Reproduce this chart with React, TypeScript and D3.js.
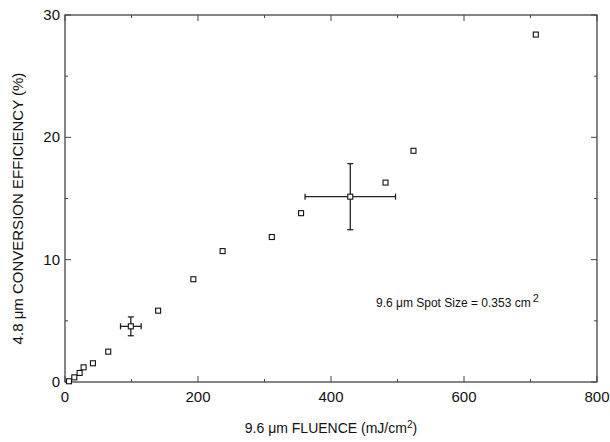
import React from "react";
import * as d3 from "d3";

const fluence = [6, 14, 22, 28, 42, 65, 140, 193, 237, 311, 355, 482, 524, 708];
const efficiency = [0.06, 0.38, 0.74, 1.2, 1.53, 2.48, 5.83, 8.4, 10.7, 11.85, 13.8, 16.3, 18.9, 28.4];

const errFluence = [99, 429];
const errEfficiency = [4.55, 15.15];
const errX = [15.5, 68];
const errY = [0.77, 2.7];

const xTicks = [0, 200, 400, 600, 800];
const yTicks = [0, 10, 20, 30];
const xMinor = [100, 300, 500, 700];
const yMinor = [5, 15, 25];

const W = 610, H = 442;
const M = { left: 65, right: 597, top: 15, bottom: 382 };

export default function App() {
  const x = d3.scaleLinear().domain([0, 800]).range([M.left, M.right]);
  const y = d3.scaleLinear().domain([0, 30]).range([M.bottom, M.top]);
  const ax = "#444";
  const font = "'Liberation Sans', Arial, Helvetica, sans-serif";
  const sq = 5;
  return (
    <svg width={W} height={H} style={{ position: "absolute", left: 0, top: 0 }} fontFamily={font}>
      <rect x={M.left} y={M.top} width={M.right - M.left} height={M.bottom - M.top} fill="none" stroke={ax} strokeWidth={1.3} />
      {xTicks.map((t) => (
        <g key={"xt" + t}>
          <line x1={x(t)} x2={x(t)} y1={M.bottom} y2={M.bottom - 6} stroke={ax} />
          <line x1={x(t)} x2={x(t)} y1={M.top} y2={M.top + 6} stroke={ax} />
          <text x={x(t)} y={M.bottom + 20} textAnchor="middle" fontSize={15} fill="#111">{t}</text>
        </g>
      ))}
      {xMinor.map((t) => (
        <g key={"xm" + t}>
          <line x1={x(t)} x2={x(t)} y1={M.bottom} y2={M.bottom - 3} stroke={ax} />
          <line x1={x(t)} x2={x(t)} y1={M.top} y2={M.top + 3} stroke={ax} />
        </g>
      ))}
      {yTicks.map((t) => (
        <g key={"yt" + t}>
          <line x1={M.left} x2={M.left + 6} y1={y(t)} y2={y(t)} stroke={ax} />
          <line x1={M.right} x2={M.right - 6} y1={y(t)} y2={y(t)} stroke={ax} />
          <text x={M.left - 5} y={y(t) + 5} textAnchor="end" fontSize={15} fill="#111">{t}</text>
        </g>
      ))}
      {yMinor.map((t) => (
        <g key={"ym" + t}>
          <line x1={M.left} x2={M.left + 3} y1={y(t)} y2={y(t)} stroke={ax} />
          <line x1={M.right} x2={M.right - 3} y1={y(t)} y2={y(t)} stroke={ax} />
        </g>
      ))}
      {fluence.map((f, i) => (
        <rect key={"p" + i} x={x(f) - sq / 2} y={y(efficiency[i]) - sq / 2} width={sq} height={sq} fill="white" stroke="#111" strokeWidth={1.1} />
      ))}
      {errFluence.map((f, i) => {
        const cx = x(f), cy = y(errEfficiency[i]);
        const x0 = x(f - errX[i]), x1 = x(f + errX[i]);
        const y0 = y(errEfficiency[i] - errY[i]), y1 = y(errEfficiency[i] + errY[i]);
        return (
          <g key={"e" + i} stroke="#222" strokeWidth={1.3}>
            <line x1={x0} x2={x1} y1={cy} y2={cy} />
            <line x1={cx} x2={cx} y1={y0} y2={y1} />
            <line x1={x0} x2={x0} y1={cy - 3} y2={cy + 3} />
            <line x1={x1} x2={x1} y1={cy - 3} y2={cy + 3} />
            <line x1={cx - 3} x2={cx + 3} y1={y0} y2={y0} />
            <line x1={cx - 3} x2={cx + 3} y1={y1} y2={y1} />
            <rect x={cx - sq / 2} y={cy - sq / 2} width={sq} height={sq} fill="white" stroke="#111" strokeWidth={1.1} />
          </g>
        );
      })}
      <text x={376} y={307} fontSize={12} fill="#111">
        9.6 μm Spot Size = 0.353 cm<tspan dx={2} dy={-5} fontSize={11}>2</tspan>
      </text>
      <text x={(M.left + M.right) / 2} y={433} textAnchor="middle" fontSize={14} fill="#111">
        9.6 μm FLUENCE (mJ/cm<tspan dy={-5} fontSize={10}>2</tspan><tspan dy={5}>)</tspan>
      </text>
      <text transform={`translate(23,${(M.top + M.bottom) / 2 + 10}) rotate(-90)`} textAnchor="middle" fontSize={15} fill="#111">
        4.8 μm CONVERSION EFFICIENCY (%)
      </text>
    </svg>
  );
}
